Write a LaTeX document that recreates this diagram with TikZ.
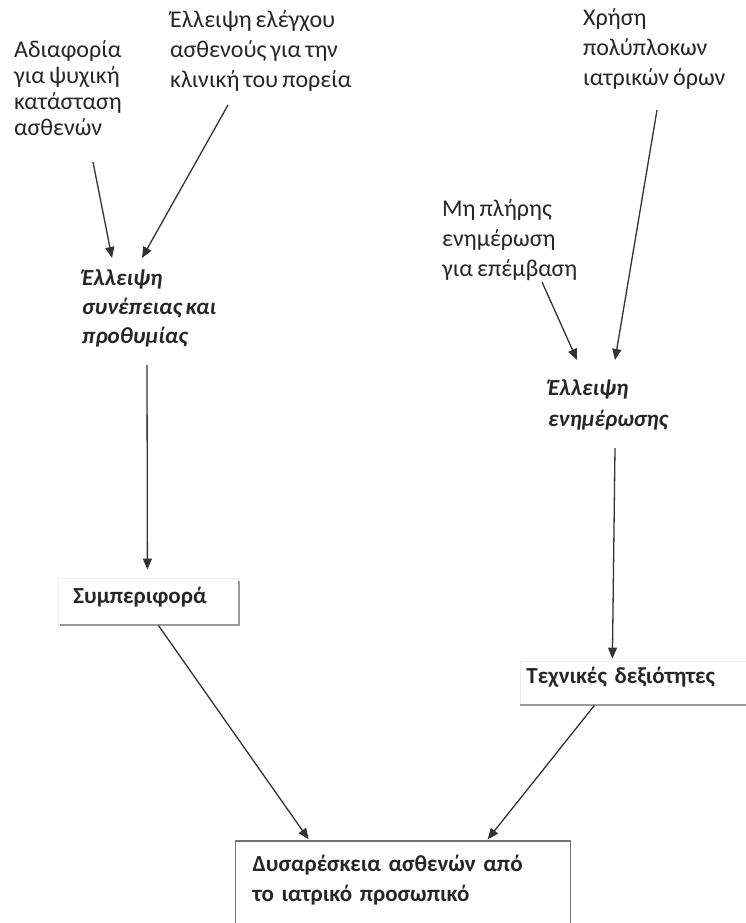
\documentclass[tikz,border=0pt]{standalone}
\usepackage{fontspec}
\setmainfont{Carlito}[WordSpace=0.75]
\usetikzlibrary{arrows.meta}
% multi-line text whose baseline is that of its first line
\newcommand{\txtblock}[1]{\begin{tabular}[t]{@{}l@{}}#1\end{tabular}}

\begin{document}
\begin{tikzpicture}[x=1pt,y=1pt,
  cause/.style={inner sep=0pt, anchor=base west, text=black!85,
                font=\fontsize{24}{30}\selectfont},
  tight/.style={font=\fontsize{24}{26}\selectfont},
  issue/.style={inner sep=0pt, anchor=base west, text=black!85,
                font=\fontsize{23}{29}\selectfont\bfseries\itshape},
  factor/.style={anchor=base west, inner ysep=0pt, text=black!85,
                 font=\fontsize{23}{30}\selectfont\bfseries, align=left},
  faintbox/.style={draw=black!7, line width=0.8pt},
  shadowline/.style={draw=black!40, line width=2pt},
  outcome/.style={draw=black!55, line width=1.3pt},
  arr/.style={draw=black!80, line width=1.3pt,
              -{Triangle[length=11pt,width=9pt]}},
]
\useasboundingbox (0,0) rectangle (746,-923);
\fill[white] (0,0) rectangle (746,-923);

% causes at the top
\node[cause, tight] (a1) at (14,-58)
  {\txtblock{Αδιαφορία\\για ψυχική\\κατάσταση\\ασθενών}};
\node[cause] (a2) at (170,-28)
  {\txtblock{Έλλειψη ελέγχου\\ασθενούς για την\\κλινική του πορεία}};
\node[cause] (b1) at (583,-26)
  {\txtblock{Χρήση\\πολύπλοκων\\ιατρικών όρων}};
\node[cause] (b2) at (442,-216)
  {\txtblock{Μη πλήρης\\ενημέρωση\\για επέμβαση}};

% intermediate issues
\node[issue] (c1) at (82,-285)
  {\txtblock{Έλλειψη\\συνέπειας και\\προθυμίας}};
\node[issue, font=\fontsize{23}{31}\selectfont\bfseries\itshape] (c2) at (548,-395)
  {\txtblock{Έλλειψη\\ενημέρωσης}};

% factors
\node[factor, faintbox, inner xsep=15pt, text width=150pt,
      text height=25pt, text depth=22pt] (beh) at (58,-603) {Συμπεριφορά};
\draw[shadowline] ([yshift=-3pt]beh.north east) -- (beh.south east)
                  -- ([xshift=2pt]beh.south west);

\node[factor, faintbox, inner xsep=6pt, text width=226pt,
      text height=22pt, text depth=22pt] (tech) at (520,-683) {Τεχνικές δεξιότητες};
\draw[shadowline] (tech.south west) -- (tech.south east);

% outcome
\node[factor, outcome, inner xsep=17pt, text width=301pt,
      text height=30pt, text depth=60pt] (dis) at (235,-871)
  {\txtblock{Δυσαρέσκεια ασθενών από\\το ιατρικό προσωπικό}};

% connectors
\draw[arr] ([shift={(79,-104)}]a1.base west) -- ([shift={(30,27)}]c1.base west);
\draw[arr] ([shift={(58,-77)}]a2.base west) -- ([shift={(60,27)}]c1.base west);
\draw[arr] ([shift={(74,-84)}]b1.base west) -- ([shift={(67,35)}]c2.base west);
\draw[arr] ([shift={(100,-66)}]b2.base west) -- ([shift={(29,35)}]c2.base west);
\draw[arr] ([shift={(65,-80)}]c1.base west) -- ([shift={(-1,8)}]beh.north);
\draw[arr] ([shift={(67,-53)}]c2.base west) -- ([shift={(-27,2)}]tech.north);
\draw[arr] ([xshift=10pt]beh.south) -- ([shift={(-94.5,1)}]dis.north);
\draw[arr] ([xshift=-45pt]tech.south) -- ([shift={(84.5,1)}]dis.north);
\end{tikzpicture}
\end{document}
